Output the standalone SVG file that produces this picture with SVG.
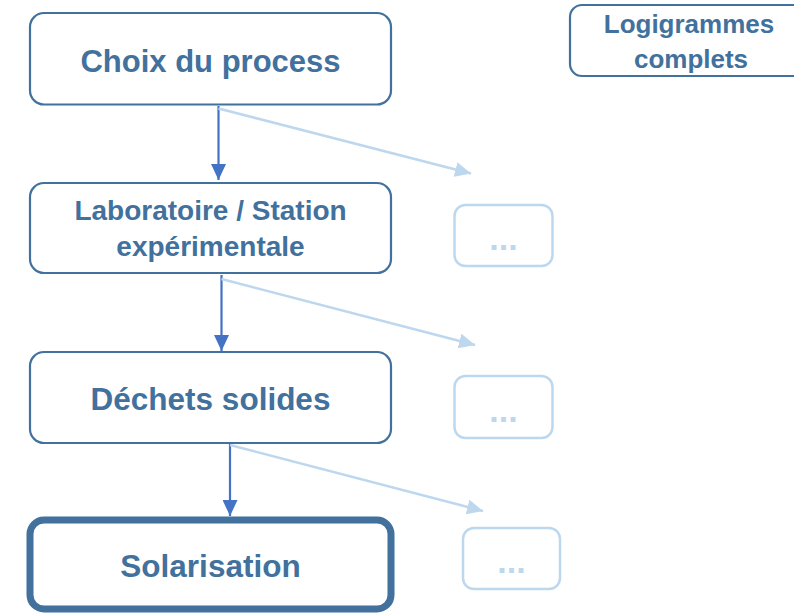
<svg xmlns="http://www.w3.org/2000/svg" width="794" height="613" viewBox="0 0 794 613">
  <style>
    .box { fill: #ffffff; stroke: #41719c; stroke-width: 2.2; }
    .box-main { fill: #ffffff; stroke: #41719c; stroke-width: 7; }
    .box-ghost { fill: #ffffff; stroke: #bdd7ee; stroke-width: 2.5; }
    .label { font-family: "Liberation Sans", Arial, sans-serif; font-weight: bold; fill: #41719c; text-anchor: middle; }
    .dots { font-family: "Liberation Sans", Arial, sans-serif; font-weight: bold; fill: #bdd7ee; text-anchor: middle; font-size: 34px; }
    .flow { stroke: #4472c4; stroke-width: 2.2; fill: none; }
    .branch { stroke: #bdd7ee; stroke-width: 2.5; fill: none; }
  </style>
  <defs>
    <marker id="head-flow" markerUnits="userSpaceOnUse" markerWidth="16" markerHeight="15" refX="16" refY="7.5" orient="auto">
      <path d="M0,0 L16,7.5 L0,15 Z" fill="#4472c4"/>
    </marker>
    <marker id="head-branch" markerUnits="userSpaceOnUse" markerWidth="16" markerHeight="15" refX="16" refY="7.5" orient="auto">
      <path d="M0,0 L16,7.5 L0,15 Z" fill="#bdd7ee"/>
    </marker>
  </defs>

  <rect width="794" height="613" fill="#ffffff"/>

  <!-- connectors -->
  <g id="connectors">
    <line class="flow" x1="218.5" y1="106" x2="218.5" y2="180" marker-end="url(#head-flow)"/>
    <line class="branch" x1="218.5" y1="108.5" x2="471" y2="173.5" marker-end="url(#head-branch)"/>
    <line class="flow" x1="221.5" y1="275" x2="221.5" y2="351" marker-end="url(#head-flow)"/>
    <line class="branch" x1="221.5" y1="279" x2="475" y2="345" marker-end="url(#head-branch)"/>
    <line class="flow" x1="230" y1="444" x2="230" y2="516" marker-end="url(#head-flow)"/>
    <line class="branch" x1="230" y1="445" x2="483" y2="511" marker-end="url(#head-branch)"/>
  </g>

  <!-- main chain -->
  <g id="node-choix">
    <rect class="box" x="30" y="13" width="361" height="91.5" rx="14"/>
    <text class="label" x="210.5" y="72" font-size="31">Choix du process</text>
  </g>

  <g id="node-laboratoire">
    <rect class="box" x="30" y="183" width="361" height="90" rx="14"/>
    <text class="label" x="210.5" y="220" font-size="28">Laboratoire / Station</text>
    <text class="label" x="210.5" y="256" font-size="28">expérimentale</text>
  </g>

  <g id="node-dechets">
    <rect class="box" x="30" y="352" width="361" height="91" rx="14"/>
    <text class="label" x="210.5" y="410" font-size="31.5">Déchets solides</text>
  </g>

  <g id="node-solarisation">
    <rect class="box-main" x="30" y="520" width="361" height="89" rx="14"/>
    <text class="label" x="210.5" y="577" font-size="31.5">Solarisation</text>
  </g>

  <!-- side branches -->
  <g id="node-branch-1">
    <rect class="box-ghost" x="454.5" y="205" width="98" height="61" rx="11"/>
    <text class="dots" x="503.5" y="250">...</text>
  </g>

  <g id="node-branch-2">
    <rect class="box-ghost" x="454.5" y="376" width="98" height="62" rx="11"/>
    <text class="dots" x="503.5" y="422">...</text>
  </g>

  <g id="node-branch-3">
    <rect class="box-ghost" x="463" y="528" width="97" height="61" rx="11"/>
    <text class="dots" x="511.5" y="573">...</text>
  </g>

  <!-- legend -->
  <g id="node-logigrammes">
    <rect class="box" x="570" y="5" width="240" height="71" rx="12"/>
    <text class="label" x="689" y="33" font-size="26">Logigrammes</text>
    <text class="label" x="691" y="68" font-size="26">complets</text>
  </g>
</svg>
